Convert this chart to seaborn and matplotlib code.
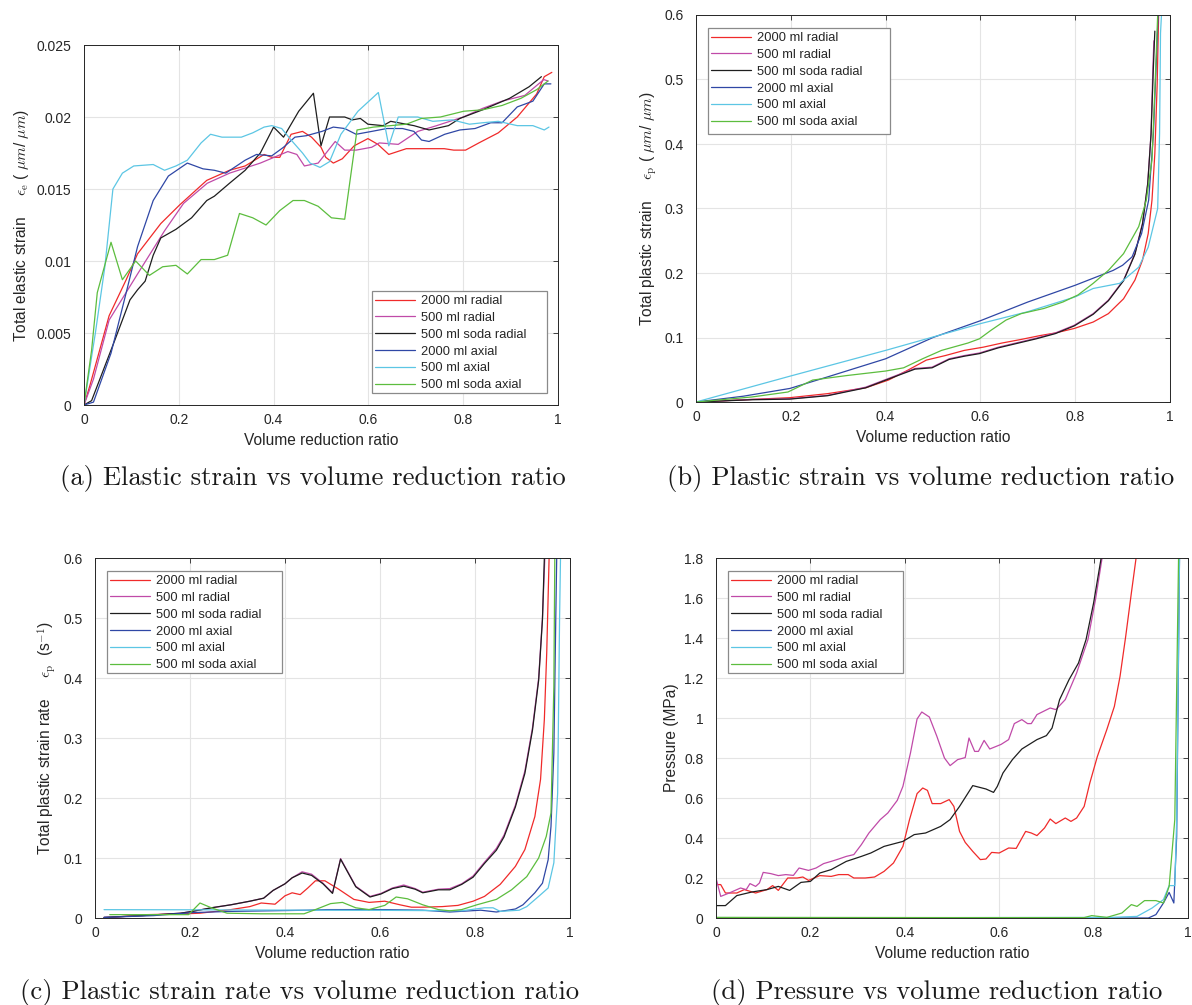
import numpy as np
import pandas as pd
import seaborn as sns
import matplotlib.pyplot as plt
from matplotlib.patches import Rectangle
from matplotlib.ticker import FormatStrFormatter

# series labels and colours (same order in every panel)
series_names = ['2000 ml radial', '500 ml radial', '500 ml soda radial',
                '2000 ml axial', '500 ml axial', '500 ml soda axial']
series_colors = ['#f02a2a', '#c04aa8', '#1e1e1e', '#2f47a5', '#5cc6e4', '#5cbd3e']

# ---- (a) elastic strain ----
a_2000_radial = [(0, 0), (0.012, 0.0013), (0.053, 0.0062), (0.089, 0.0087), (0.113, 0.0105),
                 (0.162, 0.0126), (0.202, 0.0139), (0.259, 0.0156), (0.307, 0.0163), (0.34, 0.0166),
                 (0.38, 0.0174), (0.396, 0.0172), (0.413, 0.0172), (0.437, 0.0188), (0.461, 0.019),
                 (0.48, 0.0186), (0.5, 0.0179), (0.51, 0.0172), (0.526, 0.0168), (0.545, 0.0171),
                 (0.57, 0.018), (0.599, 0.0185), (0.62, 0.0181), (0.643, 0.0174), (0.68, 0.0178),
                 (0.72, 0.0178), (0.76, 0.0178), (0.78, 0.0177), (0.805, 0.0177), (0.833, 0.0182),
                 (0.874, 0.0189), (0.914, 0.02), (0.955, 0.0216), (0.971, 0.0228), (0.987, 0.0231)]
a_500_radial = [(0, 0), (0.02, 0.0018), (0.053, 0.0059), (0.113, 0.0091), (0.17, 0.0121),
                (0.21, 0.014), (0.26, 0.0154), (0.307, 0.0161), (0.372, 0.0168), (0.43, 0.0176),
                (0.449, 0.0174), (0.465, 0.0166), (0.494, 0.0168), (0.53, 0.0183), (0.55, 0.0177),
                (0.574, 0.0177), (0.607, 0.0179), (0.623, 0.0182), (0.663, 0.0181), (0.704, 0.019),
                (0.744, 0.0194), (0.8, 0.02), (0.841, 0.0206), (0.882, 0.0211), (0.93, 0.0215),
                (0.97, 0.0226), (0.979, 0.0225)]
a_500_soda_radial = [(0, 0), (0.016, 0.0003), (0.065, 0.0045), (0.097, 0.0073), (0.113, 0.008),
                     (0.129, 0.0086), (0.146, 0.0104), (0.162, 0.0116), (0.178, 0.0119), (0.194, 0.0122),
                     (0.227, 0.013), (0.259, 0.0142), (0.275, 0.0145), (0.307, 0.0154), (0.34, 0.0163),
                     (0.372, 0.0175), (0.4, 0.0193), (0.421, 0.0186), (0.453, 0.0204), (0.484, 0.02165),
                     (0.5, 0.018), (0.518, 0.02), (0.55, 0.02), (0.566, 0.0198), (0.583, 0.0199),
                     (0.599, 0.0195), (0.631, 0.0194), (0.647, 0.0197), (0.696, 0.0194), (0.728, 0.0191),
                     (0.769, 0.0194), (0.793, 0.0199), (0.841, 0.0205), (0.898, 0.0213), (0.939, 0.0221),
                     (0.965, 0.0228)]
a_2000_axial = [(0, 0), (0.02, 0.0002), (0.057, 0.0036), (0.089, 0.0078), (0.113, 0.011),
                (0.146, 0.0142), (0.178, 0.0159), (0.218, 0.0168), (0.251, 0.0164), (0.275, 0.0163),
                (0.299, 0.0161), (0.34, 0.017), (0.364, 0.0174), (0.396, 0.0173), (0.421, 0.0179),
                (0.445, 0.0186), (0.469, 0.0187), (0.502, 0.019), (0.526, 0.0193), (0.55, 0.0192),
                (0.574, 0.0188), (0.607, 0.019), (0.639, 0.0192), (0.672, 0.0192), (0.696, 0.019),
                (0.712, 0.0184), (0.728, 0.0183), (0.761, 0.0188), (0.793, 0.0191), (0.825, 0.0192),
                (0.858, 0.0196), (0.882, 0.0196), (0.914, 0.0207), (0.947, 0.0211), (0.971, 0.0223),
                (0.985, 0.0223)]
a_500_axial = [(0, 0), (0.024, 0.005), (0.044, 0.0096), (0.061, 0.015), (0.081, 0.0161),
               (0.105, 0.0166), (0.146, 0.0167), (0.17, 0.0163), (0.194, 0.0166), (0.218, 0.017),
               (0.247, 0.0182), (0.267, 0.0188), (0.291, 0.0186), (0.332, 0.0186), (0.356, 0.0189),
               (0.38, 0.0193), (0.396, 0.0194), (0.417, 0.0192), (0.437, 0.0184), (0.461, 0.0175),
               (0.477, 0.0168), (0.498, 0.0165), (0.518, 0.0169), (0.542, 0.0188), (0.578, 0.0204),
               (0.621, 0.0217), (0.643, 0.018), (0.663, 0.02), (0.704, 0.02), (0.736, 0.0197),
               (0.777, 0.0198), (0.813, 0.0195), (0.841, 0.0196), (0.874, 0.0197), (0.914, 0.0194),
               (0.947, 0.0194), (0.971, 0.0191), (0.981, 0.0193)]
a_500_soda_axial = [(0, 0), (0.016, 0.0038), (0.028, 0.0078), (0.057, 0.0113), (0.081, 0.0087),
                    (0.109, 0.01), (0.138, 0.009), (0.166, 0.0096), (0.194, 0.0097), (0.218, 0.0091),
                    (0.247, 0.0101), (0.275, 0.0101), (0.303, 0.0104), (0.328, 0.0133), (0.356, 0.013),
                    (0.384, 0.0125), (0.413, 0.0135), (0.441, 0.0142), (0.465, 0.0142), (0.494, 0.0138),
                    (0.522, 0.013), (0.55, 0.0129), (0.576, 0.0191), (0.611, 0.0193), (0.647, 0.0194),
                    (0.68, 0.0195), (0.712, 0.0199), (0.752, 0.02), (0.801, 0.0204), (0.841, 0.0205),
                    (0.882, 0.0208), (0.922, 0.0213), (0.955, 0.0219), (0.979, 0.0225)]

# ---- (b) plastic strain ----
b_2000_radial = [(0, 0), (0.198, 0.0067), (0.278, 0.013), (0.358, 0.022), (0.406, 0.034),
                 (0.446, 0.049), (0.486, 0.065), (0.526, 0.072), (0.566, 0.08), (0.606, 0.085),
                 (0.646, 0.0915), (0.686, 0.097), (0.726, 0.103), (0.758, 0.107), (0.798, 0.114),
                 (0.838, 0.124), (0.87, 0.137), (0.902, 0.16), (0.926, 0.189), (0.942, 0.22),
                 (0.954, 0.261), (0.962, 0.313), (0.968, 0.385), (0.973, 0.494), (0.976, 0.6)]
b_500_radial = [(0, 0), (0.118, 0.004), (0.198, 0.005), (0.278, 0.0103), (0.358, 0.023),
                (0.422, 0.041), (0.462, 0.052), (0.498, 0.054), (0.534, 0.067), (0.566, 0.072),
                (0.598, 0.076), (0.638, 0.085), (0.678, 0.092), (0.718, 0.099), (0.758, 0.107),
                (0.798, 0.119), (0.838, 0.137), (0.87, 0.158), (0.902, 0.189), (0.926, 0.23),
                (0.942, 0.277), (0.953, 0.339), (0.96, 0.416), (0.964, 0.52), (0.966, 0.56)]
b_500_soda_radial = [(0, 0), (0.118, 0.0035), (0.198, 0.0045), (0.278, 0.0098), (0.358, 0.022),
                     (0.422, 0.04), (0.462, 0.051), (0.498, 0.053), (0.534, 0.066), (0.566, 0.071),
                     (0.598, 0.075), (0.638, 0.084), (0.678, 0.091), (0.718, 0.098), (0.758, 0.106),
                     (0.798, 0.118), (0.838, 0.136), (0.87, 0.157), (0.902, 0.188), (0.926, 0.229),
                     (0.942, 0.276), (0.953, 0.338), (0.96, 0.415), (0.965, 0.52), (0.968, 0.575)]
b_2000_axial = [(0, 0), (0.1, 0.009), (0.198, 0.021), (0.278, 0.039), (0.4, 0.067),
                (0.5, 0.1), (0.6, 0.126), (0.7, 0.155), (0.8, 0.181), (0.88, 0.204),
                (0.9, 0.212), (0.92, 0.225), (0.94, 0.261), (0.955, 0.313), (0.965, 0.416),
                (0.975, 0.6)]
b_500_axial = [(0, 0), (0.198, 0.04), (0.4, 0.08), (0.6, 0.1215), (0.7, 0.14),
               (0.8, 0.163), (0.838, 0.176), (0.894, 0.184), (0.934, 0.209), (0.954, 0.24),
               (0.974, 0.3), (0.978, 0.416), (0.98, 0.572), (0.982, 0.6)]
b_500_soda_axial = [(0, 0), (0.118, 0.0078), (0.194, 0.0155), (0.246, 0.034), (0.318, 0.041),
                    (0.4, 0.048), (0.438, 0.053), (0.478, 0.067), (0.518, 0.08), (0.574, 0.0915),
                    (0.598, 0.098), (0.622, 0.111), (0.654, 0.127), (0.686, 0.137), (0.734, 0.145),
                    (0.774, 0.155), (0.806, 0.166), (0.838, 0.184), (0.87, 0.204), (0.902, 0.23),
                    (0.934, 0.272), (0.95, 0.313), (0.962, 0.375), (0.97, 0.52), (0.974, 0.6)]

# ---- (c) plastic strain rate ----
c_2000_radial = [(0.019, 0.0), (0.108, 0.0056), (0.18, 0.0067), (0.221, 0.008), (0.286, 0.014),
                 (0.326, 0.019), (0.35, 0.025), (0.379, 0.023), (0.4, 0.037), (0.415, 0.042),
                 (0.432, 0.039), (0.448, 0.05), (0.464, 0.062), (0.484, 0.062), (0.513, 0.048),
                 (0.545, 0.031), (0.577, 0.026), (0.61, 0.028), (0.642, 0.022), (0.666, 0.018),
                 (0.69, 0.018), (0.731, 0.019), (0.764, 0.021), (0.796, 0.028), (0.82, 0.036),
                 (0.853, 0.056), (0.885, 0.086), (0.905, 0.114), (0.926, 0.169), (0.938, 0.231),
                 (0.946, 0.331), (0.951, 0.442), (0.956, 0.6)]
c_500_radial = [(0.019, 0.001), (0.1, 0.004), (0.18, 0.008), (0.205, 0.011), (0.245, 0.017),
                (0.286, 0.022), (0.326, 0.028), (0.355, 0.033), (0.375, 0.046), (0.4, 0.057),
                (0.415, 0.067), (0.436, 0.077), (0.456, 0.073), (0.48, 0.058), (0.5, 0.042),
                (0.517, 0.099), (0.549, 0.053), (0.579, 0.036), (0.602, 0.041), (0.626, 0.05),
                (0.65, 0.055), (0.674, 0.049), (0.69, 0.043), (0.723, 0.048), (0.747, 0.049),
                (0.772, 0.057), (0.796, 0.07), (0.82, 0.093), (0.845, 0.116), (0.861, 0.138),
                (0.885, 0.188), (0.905, 0.245), (0.921, 0.317), (0.934, 0.4), (0.942, 0.5),
                (0.947, 0.6)]
c_500_soda_radial = [(0.019, 0.001), (0.1, 0.004), (0.18, 0.008), (0.205, 0.011), (0.245, 0.017),
                     (0.286, 0.022), (0.326, 0.028), (0.355, 0.033), (0.375, 0.046), (0.4, 0.057),
                     (0.415, 0.067), (0.436, 0.075), (0.456, 0.071), (0.48, 0.057), (0.5, 0.041),
                     (0.517, 0.098), (0.549, 0.052), (0.579, 0.035), (0.602, 0.04), (0.626, 0.049),
                     (0.65, 0.053), (0.674, 0.048), (0.69, 0.042), (0.723, 0.047), (0.747, 0.047),
                     (0.772, 0.056), (0.796, 0.068), (0.82, 0.091), (0.845, 0.113), (0.861, 0.135),
                     (0.885, 0.185), (0.905, 0.241), (0.921, 0.313), (0.934, 0.396), (0.942, 0.497),
                     (0.946, 0.6)]
c_2000_axial = [(0.019, 0.001), (0.124, 0.004), (0.205, 0.009), (0.286, 0.011), (0.367, 0.012),
                (0.448, 0.013), (0.488, 0.014), (0.61, 0.014), (0.69, 0.013), (0.747, 0.01),
                (0.812, 0.013), (0.845, 0.01), (0.885, 0.015), (0.901, 0.022), (0.926, 0.042),
                (0.942, 0.058), (0.954, 0.097), (0.96, 0.153), (0.966, 0.275), (0.97, 0.497),
                (0.972, 0.6)]
c_500_axial = [(0.019, 0.0139), (0.2, 0.0137), (0.448, 0.013), (0.6, 0.0128), (0.772, 0.012),
               (0.82, 0.017), (0.838, 0.017), (0.853, 0.011), (0.893, 0.013), (0.909, 0.019),
               (0.934, 0.036), (0.954, 0.05), (0.966, 0.092), (0.974, 0.208), (0.978, 0.497),
               (0.98, 0.6)]
c_500_soda_axial = [(0.031, 0.0056), (0.197, 0.0056), (0.221, 0.025), (0.245, 0.017), (0.278, 0.008),
                    (0.35, 0.007), (0.44, 0.007), (0.464, 0.014), (0.496, 0.024), (0.521, 0.026),
                    (0.549, 0.017), (0.577, 0.014), (0.61, 0.021), (0.634, 0.035), (0.658, 0.032),
                    (0.69, 0.022), (0.723, 0.014), (0.747, 0.012), (0.772, 0.014), (0.804, 0.022),
                    (0.845, 0.031), (0.877, 0.047), (0.909, 0.069), (0.934, 0.1), (0.95, 0.136),
                    (0.96, 0.175), (0.966, 0.386), (0.968, 0.6)]

# ---- (d) pressure ----
d_2000_radial = [(0, 0.167), (0.01, 0.167), (0.02, 0.125), (0.044, 0.125), (0.06, 0.142),
                 (0.084, 0.125), (0.108, 0.142), (0.12, 0.162), (0.132, 0.138), (0.152, 0.2),
                 (0.172, 0.2), (0.184, 0.205), (0.196, 0.188), (0.22, 0.212), (0.244, 0.208),
                 (0.26, 0.217), (0.28, 0.217), (0.292, 0.2), (0.316, 0.2), (0.336, 0.205),
                 (0.356, 0.233), (0.376, 0.275), (0.396, 0.358), (0.41, 0.492), (0.426, 0.622),
                 (0.438, 0.65), (0.448, 0.638), (0.458, 0.572), (0.476, 0.572), (0.494, 0.592),
                 (0.504, 0.558), (0.516, 0.433), (0.528, 0.378), (0.544, 0.333), (0.56, 0.292),
                 (0.572, 0.295), (0.584, 0.328), (0.6, 0.325), (0.62, 0.35), (0.636, 0.348),
                 (0.656, 0.433), (0.668, 0.425), (0.68, 0.412), (0.696, 0.45), (0.708, 0.495),
                 (0.72, 0.472), (0.74, 0.5), (0.752, 0.483), (0.764, 0.5), (0.78, 0.558),
                 (0.792, 0.675), (0.808, 0.808), (0.828, 0.942), (0.844, 1.058), (0.856, 1.208),
                 (0.868, 1.408), (0.88, 1.625), (0.89, 1.8)]
d_500_radial = [(0, 0.2), (0.01, 0.108), (0.028, 0.125), (0.052, 0.15), (0.064, 0.142),
                (0.072, 0.172), (0.084, 0.158), (0.092, 0.175), (0.1, 0.228), (0.116, 0.222),
                (0.132, 0.212), (0.148, 0.217), (0.164, 0.213), (0.176, 0.25), (0.196, 0.238),
                (0.212, 0.25), (0.228, 0.272), (0.244, 0.283), (0.26, 0.295), (0.276, 0.308),
                (0.292, 0.317), (0.308, 0.367), (0.324, 0.425), (0.348, 0.492), (0.364, 0.525),
                (0.384, 0.588), (0.396, 0.658), (0.412, 0.825), (0.426, 0.995), (0.436, 1.03),
                (0.452, 1.005), (0.468, 0.908), (0.484, 0.8), (0.496, 0.762), (0.512, 0.792),
                (0.528, 0.802), (0.536, 0.9), (0.548, 0.833), (0.556, 0.833), (0.568, 0.888),
                (0.58, 0.845), (0.604, 0.868), (0.62, 0.892), (0.632, 0.972), (0.648, 0.992),
                (0.66, 0.972), (0.668, 0.972), (0.68, 1.017), (0.708, 1.05), (0.72, 1.042),
                (0.74, 1.092), (0.764, 1.225), (0.788, 1.392), (0.804, 1.592), (0.818, 1.8)]
d_500_soda_radial = [(0, 0.062), (0.02, 0.062), (0.044, 0.112), (0.076, 0.13), (0.108, 0.142),
                     (0.132, 0.158), (0.156, 0.138), (0.18, 0.178), (0.2, 0.183), (0.22, 0.225),
                     (0.244, 0.242), (0.276, 0.283), (0.308, 0.308), (0.328, 0.325), (0.356, 0.358),
                     (0.396, 0.383), (0.42, 0.417), (0.444, 0.425), (0.476, 0.458), (0.496, 0.492),
                     (0.516, 0.558), (0.544, 0.662), (0.572, 0.645), (0.588, 0.628), (0.596, 0.658),
                     (0.608, 0.725), (0.628, 0.792), (0.648, 0.845), (0.68, 0.892), (0.7, 0.912),
                     (0.712, 0.95), (0.728, 1.092), (0.748, 1.192), (0.768, 1.275), (0.784, 1.392),
                     (0.8, 1.575), (0.816, 1.8)]
d_2000_axial = [(0, 0.002), (0.5, 0.001), (0.916, 0.0), (0.932, 0.017), (0.948, 0.075),
                (0.96, 0.128), (0.97, 0.075), (0.976, 0.408), (0.982, 1.8)]
d_500_axial = [(0, 0.002), (0.5, 0.002), (0.836, 0.003), (0.892, 0.008), (0.924, 0.05),
               (0.948, 0.092), (0.96, 0.162), (0.972, 0.162), (0.976, 0.492), (0.982, 1.8)]
d_500_soda_axial = [(0, 0.003), (0.5, 0.002), (0.78, 0.002), (0.796, 0.012), (0.828, 0.003),
                    (0.86, 0.025), (0.88, 0.067), (0.892, 0.058), (0.908, 0.087), (0.932, 0.087),
                    (0.948, 0.075), (0.96, 0.158), (0.972, 0.492), (0.98, 1.8)]


def to_frame(*series):
    rows = []
    for name, pts in zip(series_names, series):
        for x, y in pts:
            rows.append({'ratio': x, 'value': y, 'series': name})
    return pd.DataFrame(rows)


sns.set_style('whitegrid')
plt.rcParams['font.family'] = ['Liberation Sans', 'DejaVu Sans']
plt.rcParams['mathtext.fontset'] = 'cm'

fig = plt.figure(figsize=(11.92, 10.05), dpi=100)
W, H = 1192, 1005


def add_axes(left, right, top, bottom):
    return fig.add_axes([left / W, 1 - bottom / H, (right - left) / W, (bottom - top) / H])


# box = axes (left, right, top, bottom), leg = legend frame in the same pixel terms
panels = [
    dict(box=(84, 558, 45, 405), leg=(372, 547, 291, 393),
         data=to_frame(a_2000_radial, a_500_radial, a_500_soda_radial,
                       a_2000_axial, a_500_axial, a_500_soda_axial),
         ylim=0.025, yticks=np.arange(0, 0.0251, 0.005),
         ylabel='Total elastic strain     $\\epsilon_\\mathrm{e}$ ( $\\mu m$/ $\\mu m$)',
         caption='(a) Elastic strain vs volume reduction ratio', cap=(313, 478)),
    dict(box=(696, 1170, 15, 402), leg=(708, 890, 28, 134),
         data=to_frame(b_2000_radial, b_500_radial, b_500_soda_radial,
                       b_2000_axial, b_500_axial, b_500_soda_axial),
         ylim=0.6, yticks=np.arange(0, 0.61, 0.1),
         ylabel='Total plastic strain     $\\epsilon_\\mathrm{p}$ ( $\\mu m$/ $\\mu m$)',
         caption='(b) Plastic strain vs volume reduction ratio', cap=(921, 478)),
    dict(box=(95, 570, 558, 918), leg=(107, 282, 571, 673),
         data=to_frame(c_2000_radial, c_500_radial, c_500_soda_radial,
                       c_2000_axial, c_500_axial, c_500_soda_axial),
         ylim=0.6, yticks=np.arange(0, 0.61, 0.1),
         ylabel='Total plastic strain rate     $\\epsilon_\\mathrm{p}$  (s$^{-1}$)',
         caption='(c) Plastic strain rate vs volume reduction ratio', cap=(300, 992)),
    dict(box=(716, 1188, 558, 918), leg=(728, 903, 571, 673),
         data=to_frame(d_2000_radial, d_500_radial, d_500_soda_radial,
                       d_2000_axial, d_500_axial, d_500_soda_axial),
         ylim=1.8, yticks=np.arange(0, 1.81, 0.2),
         ylabel='Pressure (MPa)',
         caption='(d) Pressure vs volume reduction ratio', cap=(937, 992)),
]

for p in panels:
    l, r, t, b = p['box']
    ax = add_axes(l, r, t, b)
    sns.lineplot(data=p['data'], x='ratio', y='value', hue='series', hue_order=series_names,
                 palette=series_colors, sort=False, estimator=None, linewidth=0.9, ax=ax)
    ax.set_xlim(0, 1)
    ax.set_ylim(0, p['ylim'])
    ax.set_xticks(np.arange(0, 1.01, 0.2))
    ax.set_yticks(p['yticks'])
    ax.xaxis.set_major_formatter(FormatStrFormatter('%g'))
    ax.yaxis.set_major_formatter(FormatStrFormatter('%g'))
    ax.tick_params(direction='in', top=True, right=True, length=3.6, width=0.6,
                   colors='#262626', labelsize=10)
    ax.tick_params(axis='y', pad=9)
    ax.tick_params(axis='x', pad=6)
    for s in ax.spines.values():
        s.set_color('#262626')
        s.set_linewidth(0.7)
    ax.grid(True, color='#e4e4e4', linewidth=0.8)
    ax.set_xlabel('Volume reduction ratio', fontsize=11.2, color='#262626')
    ax.set_ylabel(p['ylabel'], fontsize=11.2, color='#262626')

    # MATLAB-style legend: frame drawn separately so it keeps the wide right margin
    ll, lr, lt, lb = p['leg']
    fx0, fx1 = (ll - l) / (r - l), (lr - l) / (r - l)
    fy0, fy1 = (b - lb) / (b - t), (b - lt) / (b - t)
    ax.add_patch(Rectangle((fx0, fy0), fx1 - fx0, fy1 - fy0, transform=ax.transAxes,
                           facecolor='white', edgecolor='#8a8a8a', linewidth=0.9,
                           zorder=4.5, clip_on=False))
    ax.legend(fontsize=9.3, frameon=False, handlelength=3.1, handletextpad=0.45,
              borderpad=0, labelspacing=0.37, borderaxespad=0, loc='upper left',
              bbox_to_anchor=(fx0 + 3 / (r - l), fy1 - 4 / (b - t)))
    fig.text(p['cap'][0] / W, 1 - p['cap'][1] / H, p['caption'], ha='center', va='center',
             fontsize=19.2, family=['cmr10', 'DejaVu Serif'], color='#1a1a1a')

fig.savefig('out.png', dpi=100)
